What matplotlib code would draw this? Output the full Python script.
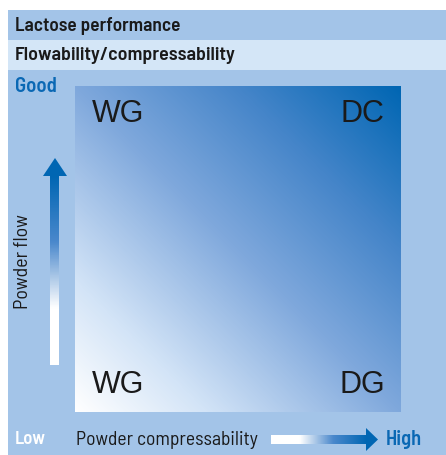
import numpy as np
import matplotlib
matplotlib.use("Agg")
import matplotlib.pyplot as plt
from matplotlib.colors import LinearSegmentedColormap
from matplotlib.patches import Rectangle
from matplotlib import font_manager

# ---- content ----
title = "Lactose performance"
subtitle = "Flowability/compressability"
y_label = "Powder flow"
x_label = "Powder compressability"
y_high, x_low, x_high = "Good", "Low", "High"
quadrant_labels = ["WG", "DC", "WG", "DG"]   # TL, TR, BL, BR
quadrant_pos = [(0, 1), (1, 1), (0, 0), (1, 0)]

W, H = 446, 456
fig = plt.figure(figsize=(W / 100, H / 100), dpi=100)
ax = fig.add_axes([0, 0, 1, 1])
ax.set_xlim(0, W)
ax.set_ylim(H, 0)
ax.axis("off")

names = {f.name for f in font_manager.fontManager.ttflist}
cond = "Roboto"
for cand in ["Barlow Semi Condensed", "Roboto Condensed", "Barlow Condensed",
             "PT Sans Narrow", "Liberation Sans Narrow", "Open Sans Condensed"]:
    if cand in names:
        cond = cand
        break

band_dark = "#a3c4e8"
band_light = "#d4e6f7"
ink = "#1a1a1a"
blue = "#0a68b4"

# backgrounds
ax.add_patch(Rectangle((8, 11), W - 8, 30, color=band_dark, lw=0))
ax.add_patch(Rectangle((8, 41), W - 8, 30, color=band_light, lw=0))
ax.add_patch(Rectangle((8, 71), W - 8, H - 71, color=band_dark, lw=0))

renderer = fig.canvas.get_renderer()


def fitted(x, y, s, target, color, weight="normal", rotation=0, **kw):
    t = ax.text(x, y, s, fontsize=14, family=cond, weight=weight, color=color,
                va="center", rotation=rotation, **kw)
    bb = t.get_window_extent(renderer)
    size = bb.height if rotation else bb.width
    t.set_fontsize(14 * target / size)
    return t


fitted(15, 26, title, 165, ink, weight="semibold")
fitted(15, 56, subtitle, 221, ink, weight="semibold")
fitted(15, 86, y_high, 42, blue, weight="semibold")
fitted(15, 440, x_low, 31, "white", weight="semibold")
fitted(76, 440, x_label, 182, ink)
fitted(386, 440, x_high, 36, blue, weight="semibold")
fitted(23, 262, y_label, 95, ink, rotation=90, ha="center")

# gradient square
x0, x1, y0, y1 = 75, 401, 87, 413
n = 300
u = np.linspace(0, 1, n)
X, Y = np.meshgrid(u, u)          # Y=0 at top row
t = (X + (1 - Y)) / 2
cmap = LinearSegmentedColormap.from_list(
    "g", [(0, "#ffffff"), (0.2, "#d3e4f7"), (0.5, "#7fa8dc"),
          (0.75, "#4585c9"), (1.0, "#0066b3")])
ax.imshow(t, cmap=cmap, extent=[x0, x1, y1, y0], origin="upper", vmin=0, vmax=1,
          interpolation="bilinear", zorder=2)

# quadrant labels
for lab, (cx, cy) in zip(quadrant_labels, quadrant_pos):
    px = 118 if cx == 0 else 362
    py = 114 if cy == 1 else 385
    ax.text(px, py, lab, fontsize=22, family="Liberation Sans", color=ink,
            ha="center", va="center", zorder=3)

# vertical arrow (gradient shaft)
sh = np.linspace(0, 1, 200).reshape(-1, 1)
acmap = LinearSegmentedColormap.from_list("a", [(0, "#0066b3"), (0.35, "#4a88cc"),
                                                 (0.7, "#ffffff"), (1, "#ffffff")])
ax.imshow(sh, cmap=acmap, extent=[50, 59, 366, 176], origin="upper", aspect="auto",
          vmin=0, vmax=1, zorder=2)
ax.add_patch(plt.Polygon([[43, 177], [67, 177], [55, 159]], color="#0066b3", lw=0, zorder=3))

# horizontal arrow
shx = np.linspace(0, 1, 200).reshape(1, -1)
hcmap = LinearSegmentedColormap.from_list("h", [(0, "#ffffff"), (0.3, "#ffffff"),
                                                 (0.65, "#4a88cc"), (1, "#0066b3")])
ax.imshow(shx, cmap=hcmap, extent=[271, 367, 445, 436], origin="upper", aspect="auto",
          vmin=0, vmax=1, zorder=2)
ax.add_patch(plt.Polygon([[366, 429], [366, 452], [378, 440.5]], color="#0066b3", lw=0, zorder=3))

ax.set_xlim(0, W)
ax.set_ylim(H, 0)
fig.savefig("out.png", dpi=100)
